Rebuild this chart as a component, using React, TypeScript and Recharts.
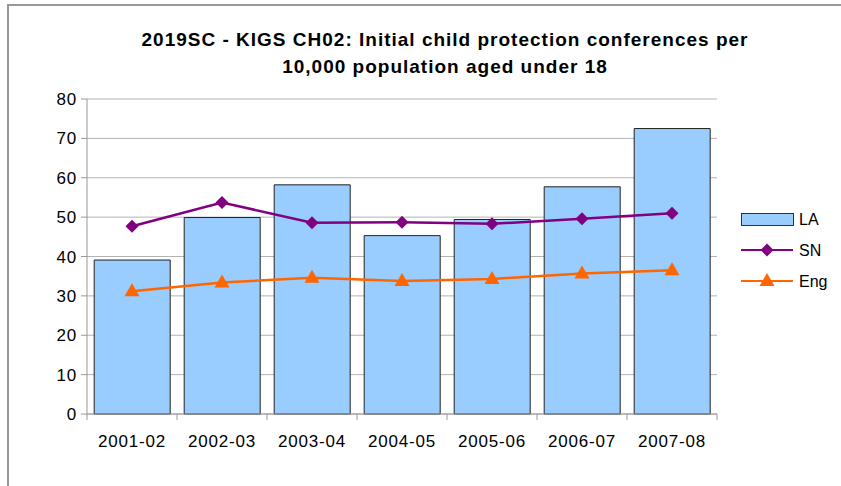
import { ComposedChart, Bar, Line, XAxis, YAxis, CartesianGrid } from "recharts";

const years = ["2001-02", "2002-03", "2003-04", "2004-05", "2005-06", "2006-07", "2007-08"];
const laValues = [39.1, 49.9, 58.2, 45.3, 49.4, 57.7, 72.5];
const snValues = [47.7, 53.7, 48.6, 48.7, 48.3, 49.6, 51.0];
const engValues = [31.2, 33.4, 34.6, 33.8, 34.3, 35.7, 36.5];
const yTicks = [0, 10, 20, 30, 40, 50, 60, 70, 80];

const data = years.map((year, i) => ({
  year,
  LA: laValues[i],
  SN: snValues[i],
  Eng: engValues[i],
}));

const FONT = "'Liberation Sans', Arial, sans-serif";
const PURPLE = "#800080";
const ORANGE = "#ff6600";
const BLUE = "#99ccff";
const X_TICK_MARGIN = 21;

const Diamond = (props: any) => {
  const { cx, cy } = props;
  if (cx == null || cy == null) return null;
  const r = 6.5;
  return <path d={`M${cx},${cy - r}L${cx + r},${cy}L${cx},${cy + r}L${cx - r},${cy}Z`} fill={PURPLE} />;
};

const Triangle = (props: any) => {
  const { cx, cy } = props;
  if (cx == null || cy == null) return null;
  return <path d={`M${cx},${cy - 8}L${cx + 7.5},${cy + 5}L${cx - 7.5},${cy + 5}Z`} fill={ORANGE} />;
};

// category label plus excel-style tick marks on the band edges
const YearTick = (props: any) => {
  const { x, y, payload, index, visibleTicksCount } = props;
  const half = payload?.offset ?? 0;
  const axisY = y - X_TICK_MARGIN;
  const isLast = index === visibleTicksCount - 1;
  return (
    <g>
      <line x1={x - half} y1={axisY} x2={x - half} y2={axisY + 6} stroke="#999" />
      {isLast && <line x1={x + half} y1={axisY} x2={x + half} y2={axisY + 6} stroke="#999" />}
      <text x={x} y={y} dy="0.71em" textAnchor="middle" fill="#000" fontSize={17} fontFamily={FONT} letterSpacing={0.8}>
        {payload.value}
      </text>
    </g>
  );
};

// legend drawn as a small svg beside the plot
const LegendBox = () => (
  <svg width={100} height={90} style={{ position: "absolute", left: 740, top: 206, fontFamily: FONT }}>
    <rect x={1.5} y={7.5} width={52} height={12} fill={BLUE} stroke="#333" />
    <text x={59} y={19} fontSize={16}>LA</text>
    <line x1={1} y1={44} x2={53} y2={44} stroke={PURPLE} strokeWidth={2} />
    <Diamond cx={27} cy={44} />
    <text x={59} y={50} fontSize={16}>SN</text>
    <line x1={1} y1={75} x2={53} y2={75} stroke={ORANGE} strokeWidth={2} />
    <Triangle cx={27} cy={75} />
    <text x={59} y={81} fontSize={16}>Eng</text>
  </svg>
);

const tickStyle = { fill: "#000", fontSize: 17, fontFamily: FONT, letterSpacing: 0.8 };

export default function App() {
  return (
    <div style={{ position: "absolute", left: 0, top: 0, width: 841, height: 486, background: "#fff", fontFamily: FONT, overflow: "hidden" }}>
      <div
        style={{
          position: "absolute",
          left: 7,
          top: 4,
          width: 834,
          height: 490,
          borderLeft: "2px solid #999",
          borderTop: "2px solid #999",
        }}
      />
      <div
        style={{
          position: "absolute",
          left: 40,
          width: 810,
          top: 26,
          textAlign: "center",
          fontWeight: "bold",
          fontSize: 19,
          letterSpacing: 1,
          lineHeight: "27px",
          color: "#000",
        }}
      >
        2019SC - KIGS CH02: Initial child protection conferences per
        <br />
        10,000 population aged under 18
      </div>
      <ComposedChart
        width={841}
        height={486}
        data={data}
        margin={{ top: 99, right: 124, bottom: 42, left: 0 }}
        barCategoryGap="8%"
        style={{ position: "absolute", left: 0, top: 0 }}
      >
        <CartesianGrid vertical={false} stroke="#b3b3b3" />
        <XAxis
          dataKey="year"
          height={30}
          axisLine={{ stroke: "#999" }}
          tickLine={false}
          tickSize={0}
          tickMargin={X_TICK_MARGIN}
          tick={<YearTick />}
          interval={0}
        />
        <YAxis
          width={87}
          domain={[0, 80]}
          ticks={yTicks}
          axisLine={{ stroke: "#999" }}
          tickLine={{ stroke: "#999" }}
          tickSize={6}
          tick={tickStyle}
          tickMargin={4}
        />
        <YAxis yAxisId="edge" orientation="right" width={0} tick={false} axisLine={{ stroke: "#b3b3b3" }} tickLine={false} />
        <Bar dataKey="LA" fill={BLUE} stroke="#222" strokeWidth={1} isAnimationActive={false} />
        <Line dataKey="SN" stroke={PURPLE} strokeWidth={2.5} dot={<Diamond />} activeDot={false} isAnimationActive={false} />
        <Line dataKey="Eng" stroke={ORANGE} strokeWidth={2.5} dot={<Triangle />} activeDot={false} isAnimationActive={false} />
      </ComposedChart>
      <LegendBox />
    </div>
  );
}
